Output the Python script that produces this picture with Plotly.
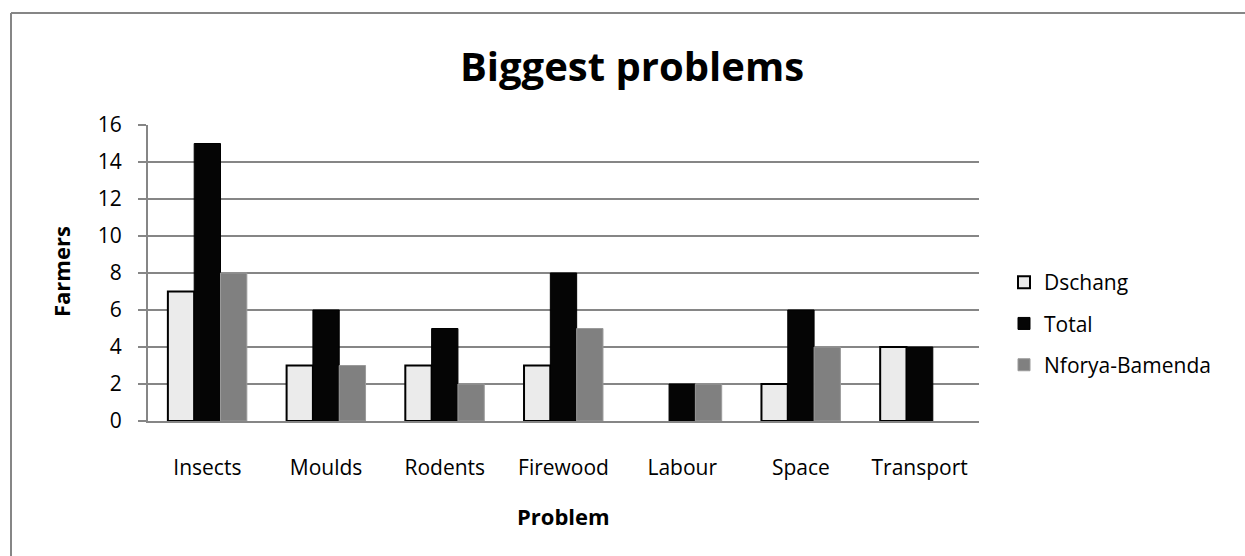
import plotly.graph_objects as go

categories = ["Insects", "Moulds", "Rodents", "Firewood", "Labour", "Space", "Transport"]
dschang = [7, 3, 3, 3, 0, 2, 4]
total = [15, 6, 5, 8, 2, 6, 4]
nforya = [8, 3, 2, 5, 2, 4, 0]
y_ticks = [0, 2, 4, 6, 8, 10, 12, 14, 16]

FONT = "Open Sans"
W, H = 1245, 556
L, R, T, B = 148, 979, 125, 421


def nz(vals):
    return [v if v else None for v in vals]


fig = go.Figure()
fig.add_trace(go.Bar(name="Dschang", x=categories, y=nz(dschang),
                     marker=dict(color="#ebebeb", line=dict(color="#000000", width=2)),
                     legendgroup="a"))
fig.add_trace(go.Bar(name="Total", x=categories, y=nz(total),
                     marker=dict(color="#050505", line=dict(color="#000000", width=1)),
                     legendgroup="b"))
fig.add_trace(go.Bar(name="Nforya-Bamenda", x=categories, y=nz(nforya),
                     marker=dict(color="#808080", line=dict(color="#9a9a9a", width=1)),
                     legendgroup="c"))

pw = R - L
ph = B - T


def px(x):
    return (x - L) / pw


def py(y):
    return (B - y) / ph


border = dict(color="#868686", width=2)

fig.update_layout(
    width=W, height=H,
    margin=dict(l=L, r=W - R, t=T, b=H - B),
    paper_bgcolor="white", plot_bgcolor="white",
    barmode="group", bargap=0.335, bargroupgap=0,
    font=dict(family=FONT, size=21, color="#000000"),
    title=dict(text="<b>Biggest problems</b>", x=632 / W, xanchor="center",
               y=1 - 67 / H, yanchor="middle", yref="container",
               font=dict(family=FONT, size=40, color="#000000")),
    showlegend=True,
    legend=dict(x=px(1004), y=py(262), xanchor="left", yanchor="top",
                font=dict(family=FONT, size=21), tracegroupgap=11,
                traceorder="grouped", bgcolor="rgba(0,0,0,0)"),
    xaxis=dict(showgrid=False, showline=True, linecolor="#868686", linewidth=2,
               ticks="", tickfont=dict(family=FONT, size=21), ticklabelstandoff=27),
    yaxis=dict(range=[0, 16], tickvals=y_ticks, showgrid=True, gridcolor="#868686",
               gridwidth=2, showline=True, linecolor="#868686", linewidth=2,
               ticks="outside", ticklen=8, tickcolor="#868686", tickwidth=2,
               tickfont=dict(family=FONT, size=21), zeroline=False,
               ticklabelstandoff=12),
    annotations=[
        dict(text="<b>Farmers</b>", x=px(61), y=py(272), xref="paper", yref="paper",
             textangle=-90, showarrow=False, xanchor="center", yanchor="middle",
             font=dict(family=FONT, size=22)),
        dict(text="<b>Problem</b>", x=px(563), y=py(516), xref="paper", yref="paper",
             showarrow=False, xanchor="center", yanchor="middle",
             font=dict(family=FONT, size=22)),
    ],
    shapes=[
        dict(type="line", xref="paper", yref="paper",
             x0=px(11), x1=px(1260), y0=py(13), y1=py(13), line=border, layer="below"),
        dict(type="line", xref="paper", yref="paper",
             x0=px(11), x1=px(11), y0=py(13), y1=py(570), line=border, layer="below"),
        dict(type="rect", xref="paper", yref="paper",
             x0=px(1237), x1=px(1260), y0=py(570), y1=py(15),
             line=dict(width=0), fillcolor="white", layer="above"),
    ],
)

fig.write_html("out.html", config={"displayModeBar": False})
